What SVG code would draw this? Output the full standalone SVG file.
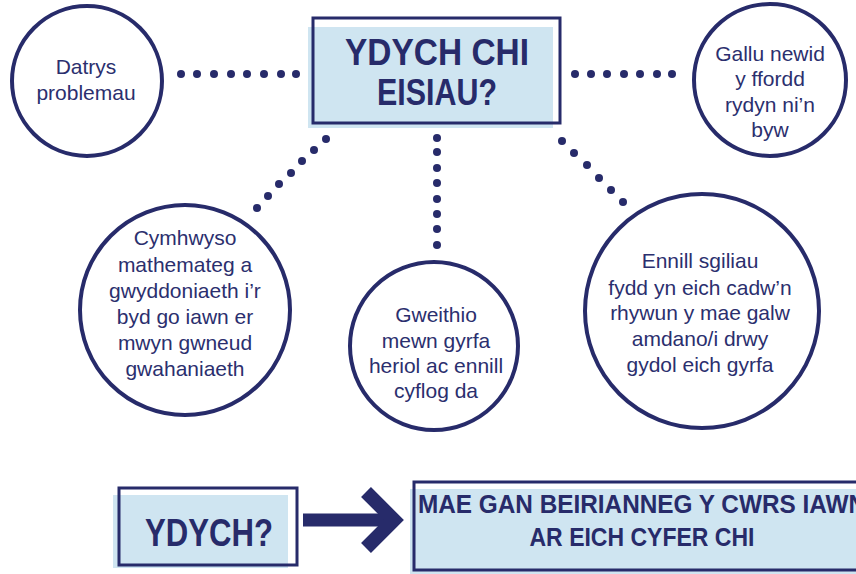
<svg xmlns="http://www.w3.org/2000/svg" width="856" height="574" viewBox="0 0 856 574">
<style>
.c{fill:#fff;stroke:#272b6a;stroke-width:4}
.t{font-family:"Liberation Sans",Arial,sans-serif;font-size:21px;fill:#2b2f6e;text-anchor:middle}
.h{font-family:"Liberation Sans",Arial,sans-serif;font-weight:bold;fill:#272b6a;text-anchor:middle}
.s{text-anchor:start}
.fill{fill:#cfe5f1}
.box{fill:none;stroke:#272b6a;stroke-width:3}
.d{fill:#272b6a}
</style>
<rect width="856" height="574" fill="#fff"/>
<g id="connectors">
<g class="d">
<circle cx="181" cy="74" r="4"/><circle cx="197" cy="74" r="4"/><circle cx="214" cy="74" r="4"/><circle cx="231" cy="74" r="4"/><circle cx="247" cy="74" r="4"/><circle cx="264" cy="74" r="4"/><circle cx="281" cy="74" r="4"/><circle cx="296" cy="74" r="4"/>
<circle cx="575" cy="74" r="4"/><circle cx="591" cy="74" r="4"/><circle cx="607" cy="74" r="4"/><circle cx="624" cy="74" r="4"/><circle cx="640" cy="74" r="4"/><circle cx="657" cy="74" r="4"/><circle cx="672" cy="74" r="4"/>
<circle cx="326" cy="139" r="4"/><circle cx="314" cy="150" r="4"/><circle cx="302" cy="161" r="4"/><circle cx="291" cy="173" r="4"/><circle cx="279" cy="184" r="4"/><circle cx="268" cy="196" r="4"/><circle cx="257" cy="208" r="4"/>
<circle cx="437" cy="138" r="4"/><circle cx="437" cy="152" r="4"/><circle cx="437" cy="168" r="4"/><circle cx="437" cy="183" r="4"/><circle cx="437" cy="199" r="4"/><circle cx="437" cy="214" r="4"/><circle cx="437" cy="229" r="4"/><circle cx="437" cy="245" r="4"/>
<circle cx="562" cy="141" r="4"/><circle cx="574" cy="153" r="4"/><circle cx="587" cy="165" r="4"/><circle cx="599" cy="178" r="4"/><circle cx="611" cy="190" r="4"/><circle cx="623" cy="202" r="4"/>
</g>
<line x1="303" y1="520" x2="392" y2="520" stroke="#272b6a" stroke-width="13"/>
<path d="M366 492 L394 520 L366 548" fill="none" stroke="#272b6a" stroke-width="14"/>
</g>
<g id="top">
<rect class="fill" x="308" y="27" width="245" height="101"/>
<rect class="box" x="313" y="18" width="247" height="105"/>
<text class="h" x="437" y="65" font-size="36" textLength="184" lengthAdjust="spacingAndGlyphs">YDYCH CHI</text>
<text class="h" x="437" y="105" font-size="36" textLength="120" lengthAdjust="spacingAndGlyphs">EISIAU?</text>
</g>
<g id="datrys">
<circle class="c" cx="87" cy="81" r="75"/>
<text class="t" x="86" y="74">Datrys</text>
<text class="t" x="86" y="100">problemau</text>
</g>
<g id="gallu">
<circle class="c" cx="770" cy="80" r="76"/>
<text class="t" x="770" y="61">Gallu newid</text>
<text class="t" x="770" y="86">y ffordd</text>
<text class="t" x="770" y="112">rydyn ni’n</text>
<text class="t" x="770" y="137">byw</text>
</g>
<g id="cymhwyso">
<circle class="c" cx="185" cy="310" r="105"/>
<text class="t" x="185" y="245" font-size="21.5">Cymhwyso</text>
<text class="t" x="185" y="272" font-size="21.5">mathemateg a</text>
<text class="t" x="185" y="298" font-size="21.5">gwyddoniaeth i’r</text>
<text class="t" x="185" y="324" font-size="21.5">byd go iawn er</text>
<text class="t" x="185" y="350" font-size="21.5">mwyn gwneud</text>
<text class="t" x="185" y="376" font-size="21.5">gwahaniaeth</text>
</g>
<g id="gweithio">
<circle class="c" cx="434" cy="346" r="84"/>
<text class="t" x="436" y="322">Gweithio</text>
<text class="t" x="436" y="348">mewn gyrfa</text>
<text class="t" x="436" y="373">heriol ac ennill</text>
<text class="t" x="436" y="398">cyflog da</text>
</g>
<g id="ennill">
<circle class="c" cx="702" cy="311" r="117"/>
<text class="t" x="700" y="268" font-size="21.5">Ennill sgiliau</text>
<text class="t" x="700" y="295" font-size="21.5">fydd yn eich cadw’n</text>
<text class="t" x="700" y="320" font-size="21.5">rhywun y mae galw</text>
<text class="t" x="700" y="346" font-size="21.5">amdano/i drwy</text>
<text class="t" x="700" y="372" font-size="21.5">gydol eich gyrfa</text>
</g>
<g id="ydych">
<rect class="fill" x="113" y="495" width="175" height="73"/>
<rect class="box" x="119" y="488" width="178" height="77"/>
<text class="h" x="209" y="546" font-size="38" textLength="128" lengthAdjust="spacingAndGlyphs">YDYCH?</text>
</g>
<g id="mae">
<rect class="fill" x="410" y="489" width="460" height="85"/>
<rect class="box" x="414" y="482" width="460" height="88"/>
<text class="h s" x="418" y="513" font-size="25" textLength="448" lengthAdjust="spacingAndGlyphs">MAE GAN BEIRIANNEG Y CWRS IAWN</text>
<text class="h" x="642" y="546" font-size="25" textLength="225" lengthAdjust="spacingAndGlyphs">AR EICH CYFER CHI</text>
</g>
</svg>
